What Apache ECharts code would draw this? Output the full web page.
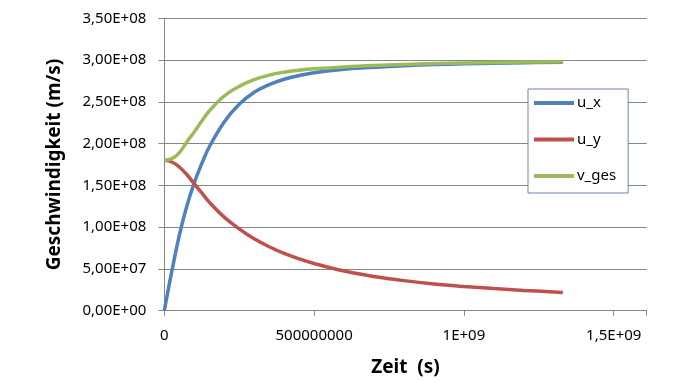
<!DOCTYPE html>
<html>
<head>
<meta charset="utf-8">
<script src="https://cdn.jsdelivr.net/npm/echarts@6/dist/echarts.min.js"></script>
<style>
html,body{margin:0;padding:0;background:#fff;}
#chart{width:699px;height:382px;}
</style>
</head>
<body>
<div id="chart"></div>
<script>
// Time (s)
var timeValues = [0, 2.5e7, 5e7, 7.5e7, 1e8, 1.25e8, 1.5e8, 2e8, 2.5e8, 3e8, 3.5e8, 4e8, 4.5e8, 5e8, 6e8, 7e8, 8e8, 9e8, 1e9, 1.1e9, 1.2e9, 1.33e9];
// u_x (m/s)
var uxValues = [0, 0.47e8, 0.90e8, 1.25e8, 1.53e8, 1.76e8, 1.96e8, 2.26e8, 2.47e8, 2.615e8, 2.705e8, 2.77e8, 2.815e8, 2.848e8, 2.89e8, 2.915e8, 2.933e8, 2.946e8, 2.956e8, 2.963e8, 2.969e8, 2.975e8];
// u_y (m/s)
var uyValues = [1.80e8, 1.78e8, 1.72e8, 1.63e8, 1.52e8, 1.41e8, 1.30e8, 1.12e8, 0.98e8, 0.86e8, 0.765e8, 0.685e8, 0.62e8, 0.565e8, 0.475e8, 0.41e8, 0.36e8, 0.32e8, 0.29e8, 0.265e8, 0.243e8, 0.217e8];
// v_ges (m/s)
var vgesValues = [1.80e8, 1.82e8, 1.89e8, 2.02e8, 2.14e8, 2.27e8, 2.39e8, 2.57e8, 2.685e8, 2.765e8, 2.82e8, 2.855e8, 2.878e8, 2.895e8, 2.918e8, 2.935e8, 2.948e8, 2.958e8, 2.965e8, 2.971e8, 2.976e8, 2.98e8];

var seriesNames = ['u_x', 'u_y', 'v_ges'];
var seriesColors = ['#4F81BD', '#C0504D', '#9BBB59'];

var xTickValues = [0, 5e8, 1e9, 1.5e9];
var xTickLabels = ['0', '500000000', '1E+09', '1,5E+09'];
var yTickValues = [0, 5e7, 1e8, 1.5e8, 2e8, 2.5e8, 3e8, 3.5e8];
var yTickLabels = ['0,00E+00', '5,00E+07', '1,00E+08', '1,50E+08', '2,00E+08', '2,50E+08', '3,00E+08', '3,50E+08'];

function pairs(ys) {
  return timeValues.map(function (t, i) { return [t, ys[i]]; });
}
function labelFor(values, labels, v) {
  for (var i = 0; i < values.length; i++) {
    if (Math.abs(values[i] - v) < 1) return labels[i];
  }
  return '';
}

var FONT = 'Noto Sans';
var axisGrey = '#868686';
var allY = [uxValues, uyValues, vgesValues];

var option = {
  backgroundColor: '#fff',
  animation: false,
  grid: { left: 164.3, right: 52.3, top: 18.3, bottom: 71.3, containLabel: false },
  xAxis: {
    type: 'value',
    min: 0,
    max: 1.61e9,
    interval: 5e8,
    name: 'Zeit  (s)',
    nameLocation: 'middle',
    nameGap: 47,
    nameTextStyle: { fontFamily: FONT, fontWeight: 'bold', fontSize: 19, color: '#000' },
    axisLine: { show: true, lineStyle: { color: axisGrey, width: 1 } },
    axisTick: { show: true, length: 5, lineStyle: { color: axisGrey } },
    splitLine: { show: false },
    axisLabel: {
      fontFamily: FONT, fontSize: 15, color: '#000', margin: 18,
      formatter: function (v) { return labelFor(xTickValues, xTickLabels, v); }
    }
  },
  yAxis: {
    type: 'value',
    min: 0,
    max: 3.5e8,
    interval: 5e7,
    name: 'Geschwindigkeit (m/s)',
    nameLocation: 'middle',
    nameGap: 100,
    nameRotate: 90,
    nameTextStyle: { fontFamily: FONT, fontWeight: 'bold', fontSize: 19, color: '#000' },
    axisLine: { show: true, lineStyle: { color: axisGrey, width: 1 } },
    axisTick: { show: true, length: 6, lineStyle: { color: axisGrey } },
    splitLine: { show: true, lineStyle: { color: axisGrey, width: 1 } },
    axisLabel: {
      fontFamily: FONT, fontSize: 15, color: '#000', margin: 18,
      formatter: function (v) { return labelFor(yTickValues, yTickLabels, v); }
    }
  },
  legend: {
    orient: 'vertical',
    left: 528,
    top: 89,
    itemWidth: 40,
    itemHeight: 4,
    itemGap: 20.5,
    icon: 'rect',
    backgroundColor: '#fff',
    borderColor: '#6A86A8',
    borderWidth: 1,
    borderRadius: 0,
    padding: [6, 12, 9, 6],
    textStyle: { fontFamily: FONT, fontSize: 15, color: '#000', lineHeight: 16, padding: [0, 0, 0, -2] },
    data: seriesNames
  },
  series: seriesNames.map(function (name, i) {
    return {
      name: name,
      type: 'line',
      smooth: 0.4,
      showSymbol: false,
      symbol: 'none',
      color: seriesColors[i],
      lineStyle: { width: 3.5, color: seriesColors[i] },
      data: pairs(allY[i])
    };
  })
};

var chart = echarts.init(document.getElementById('chart'), null, { renderer: 'canvas' });
chart.setOption(option);
</script>
</body>
</html>
